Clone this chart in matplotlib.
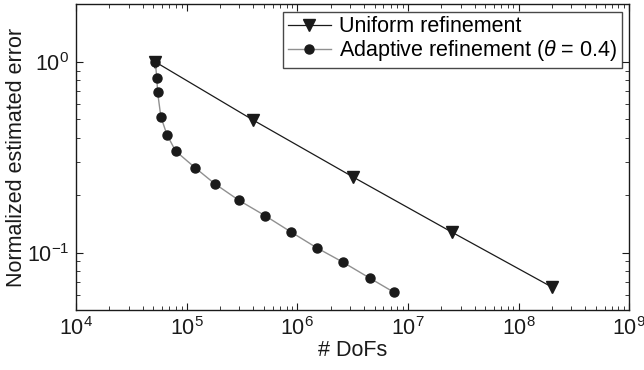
import matplotlib
matplotlib.use("Agg")
import matplotlib.pyplot as plt
from matplotlib.ticker import LogLocator, NullFormatter

plt.rcParams['font.family'] = ['Liberation Sans', 'DejaVu Sans']
plt.rcParams['mathtext.fontset'] = 'custom'
plt.rcParams['mathtext.rm'] = 'Liberation Sans'
plt.rcParams['mathtext.it'] = 'Liberation Sans:italic'

uniform_dofs = [5.2e4, 4.0e5, 3.2e6, 2.5e7, 2.0e8]
uniform_err = [1.0, 0.495, 0.249, 0.128, 0.066]

adaptive_dofs = [5.2e4, 5.38e4, 5.46e4, 5.85e4, 6.63e4, 7.94e4, 1.19e5, 1.79e5,
                 2.97e5, 5.14e5, 8.83e5, 1.50e6, 2.57e6, 4.51e6, 7.43e6]
adaptive_err = [1.0, 0.824, 0.696, 0.515, 0.416, 0.341, 0.279, 0.230,
                0.188, 0.156, 0.128, 0.106, 0.0893, 0.0736, 0.0621]

labels = ["Uniform refinement", r"Adaptive refinement ($\theta$ = 0.4)"]

FS = 15.5

fig = plt.figure(figsize=(6.44, 3.70), dpi=100)
ax = fig.add_axes([0.118, 0.162, 0.859, 0.826])

ax.plot(uniform_dofs, uniform_err, color='#1a1a1a', lw=0.9, marker='v',
        markersize=8, markerfacecolor='#1a1a1a', markeredgecolor='#1a1a1a', label=labels[0])
ax.plot(adaptive_dofs, adaptive_err, color='#909090', lw=1.0, marker='o',
        markersize=6.5, markerfacecolor='#1a1a1a', markeredgecolor='#1a1a1a', label=labels[1])

ax.set_xscale('log')
ax.set_yscale('log')
ax.set_xlim(1e4, 1e9)
ax.set_ylim(0.05, 2.0)
ax.xaxis.set_major_locator(LogLocator(base=10, numticks=20))
ax.xaxis.set_minor_locator(LogLocator(base=10, subs=range(2, 10), numticks=20))
ax.yaxis.set_major_locator(LogLocator(base=10, numticks=20))
ax.yaxis.set_minor_locator(LogLocator(base=10, subs=range(2, 10), numticks=20))
ax.yaxis.set_minor_formatter(NullFormatter())

ax.tick_params(which='both', direction='in', top=True, right=True, labelsize=FS, colors='#1a1a1a')
ax.tick_params(which='major', length=5, width=0.8, pad=5)
ax.tick_params(which='minor', length=3, width=0.6)
for s in ax.spines.values():
    s.set_linewidth(1.0)
    s.set_color('#1a1a1a')

ax.set_xlabel('# DoFs', fontsize=FS, color='#1a1a1a', labelpad=0)
ax.set_ylabel('Normalized estimated error', fontsize=FS, color='#1a1a1a', labelpad=0)

leg = ax.legend(loc='upper right', fontsize=FS, frameon=True, fancybox=False,
                borderaxespad=0.35, handlelength=2.0, handletextpad=0.4,
                borderpad=0.2, labelspacing=0.05)
leg.get_frame().set_edgecolor('#1a1a1a')
leg.get_frame().set_linewidth(1.0)

fig.savefig('out.png', dpi=100)
